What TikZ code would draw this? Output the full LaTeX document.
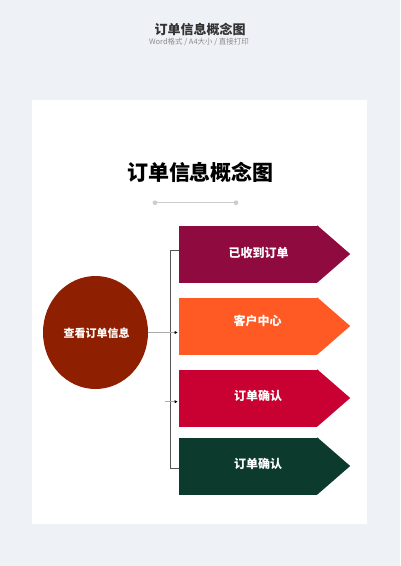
\documentclass[tikz,border=0pt]{standalone}
\usepackage{fontspec}
\setmainfont{Noto Sans CJK SC}
\usetikzlibrary{arrows.meta,shapes.geometric}
\definecolor{bgc}{HTML}{EEF1F6}
\definecolor{cone}{HTML}{8F0A3F}
\definecolor{ctwo}{HTML}{FF5A23}
\definecolor{cthree}{HTML}{C90032}
\definecolor{cfour}{HTML}{0C3B2E}
\definecolor{ccirc}{HTML}{8E1F00}
\definecolor{darkline}{HTML}{555555}
\definecolor{lightline}{HTML}{AAAAAA}
\tikzset{
  body/.style={rectangle, minimum width=138pt, minimum height=57pt, inner sep=0pt, draw=none},
  lbl/.style={text=white, font=\bfseries\fontsize{12}{12}\selectfont, inner sep=0pt},
  trunk/.style={draw=darkline, line width=0.9pt},
  feed/.style={draw=lightline, line width=0.9pt, -{Triangle[length=2.8pt,width=2.8pt,color=black]}, shorten >=1.3pt},
}
\newcommand{\tipof}[3]{\fill[#3] (#1.north east) -- ([xshift=33pt]#1.east) -- (#1.south east) -- cycle;}
\begin{document}
\begin{tikzpicture}[x=1pt,y=-1pt]
\useasboundingbox (0,0) rectangle (400,566);
\fill[bgc] (0,0) rectangle (400,566);
\fill[white] (32.3,100) rectangle (367,524);
% header
\node[text=black!80, font=\bfseries\fontsize{13}{13}\selectfont, inner sep=0pt] (htitle) at (200,29) {订单信息概念图};
\node[text=black!45, font=\fontsize{7.5}{7.5}\selectfont, inner sep=0pt] (hsub) at (199,42) {Word格式 / A4大小 / 直接打印};
% inner title
\node[text=black, font=\bfseries\fontsize{21}{21}\selectfont, inner sep=0pt] (title) at (200.5,172.5) {订单信息概念图};
\coordinate (la) at (155,202.7);
\coordinate (lb) at (236,202.7);
\draw[black!20, line width=1.3pt] (la) -- (lb);
\fill[black!20] (la) circle (2.3pt) (lb) circle (2.3pt);
% circle
\node[ellipse, fill=ccirc, minimum width=105pt, minimum height=113pt, inner sep=0pt] (c) at (95.5,332.5) {};
\node[text=white, font=\bfseries\fontsize{11}{11}\selectfont, inner sep=0pt] (ct) at (96.5,333) {查看订单信息};
% boxes
\node[body, fill=cone]   (b1) at (248,254) {};
\node[body, fill=ctwo]   (b2) at (248,326) {};
\node[body, fill=cthree] (b3) at (248,398) {};
\node[body, fill=cfour]  (b4) at (248,466) {};
\tipof{b1}{}{cone}
\tipof{b2}{}{ctwo}
\tipof{b3}{}{cthree}
\tipof{b4}{}{cfour}
\node[lbl] (t1) at (258.5,253) {已收到订单};
\node[lbl] (t2) at (257.5,321) {客户中心};
\node[lbl] (t3) at (258,396) {订单确认};
\node[lbl] (t4) at (258,464) {订单确认};
% connectors
\coordinate (ka) at (170.5,250);
\coordinate (kb) at (170.5,468.3);
\coordinate (s3) at (165,401.7);
\draw[trunk] (ka -| b1.west) -- (ka) -- (kb) -- (kb -| b4.west);
\draw[feed] (c.east) -- (c.east -| b2.west);
\draw[feed] (s3) -- (s3 -| b3.west);
\end{tikzpicture}
\end{document}
